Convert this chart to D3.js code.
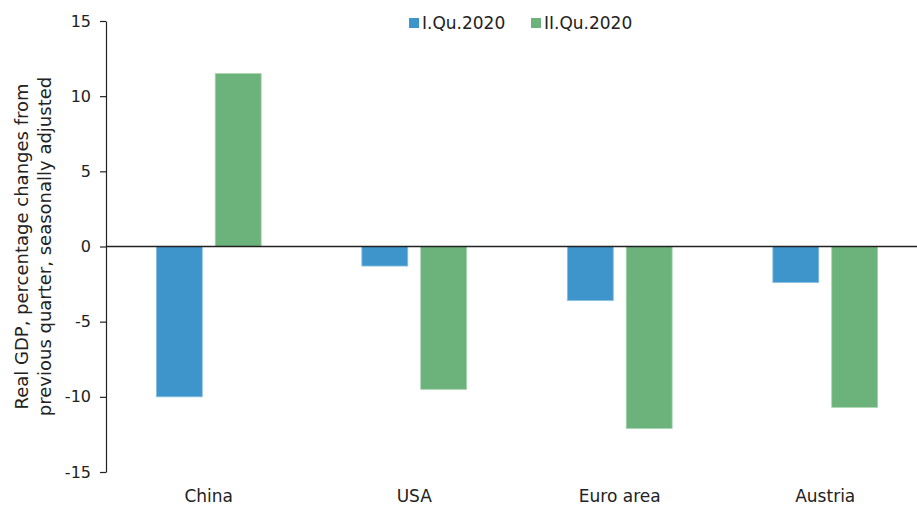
<!DOCTYPE html>
<html>
<head>
<meta charset="utf-8">
<script src="https://cdn.jsdelivr.net/npm/d3@7"></script>
<style>
  body { margin: 0; background: #fff; }
  svg text { font-family: "DejaVu Sans", sans-serif; fill: #222; }
</style>
</head>
<body>
<div id="chartTarget"></div>
<script>
// data
let countries = ['China', 'USA', 'Euro area', 'Austria'];
let seriesNames = ['I.Qu.2020', 'II.Qu.2020'];
let q1Values = [-10.0, -1.3, -3.6, -2.4];
let q2Values = [11.5, -9.5, -12.1, -10.7];
let yTicks = [-15, -10, -5, 0, 5, 10, 15];
let colors = ['#3e95cb', '#6bb37b'];

let width = 917;
let height = 506;
let margin = {top: 21, left: 106, bottom: 34, plotRight: 928};

let rows = countries.map((c, i) => ({country: c, values: [q1Values[i], q2Values[i]]}));

let svg = d3.select('#chartTarget').append('svg')
  .attr('width', width)
  .attr('height', height);

let x0 = d3.scaleBand()
  .domain(countries)
  .range([margin.left, margin.plotRight])
  .paddingInner(0.49)
  .paddingOuter(0.245);

let x1 = d3.scaleBand()
  .domain([0, 1])
  .range([0, x0.bandwidth()])
  .paddingInner(0.22);

let y = d3.scaleLinear()
  .domain([-15, 15])
  .range([472, margin.top]);

// bars
let groups = svg.selectAll('.group')
  .data(rows)
  .enter().append('g')
    .attr('class', 'group')
    .attr('transform', d => `translate(${x0(d.country)},0)`);

groups.selectAll('rect')
  .data(d => d.values.map((v, i) => ({v: v, i: i})))
  .enter().append('rect')
    .attr('x', d => x1(d.i))
    .attr('y', d => y(Math.max(0, d.v)))
    .attr('width', x1.bandwidth())
    .attr('height', d => Math.abs(y(d.v) - y(0)))
    .attr('fill', d => colors[d.i])
    .attr('stroke', d => d.i === 0 ? '#8cc0e0' : '#a5d3ae')
    .attr('stroke-width', 0.8);

// y axis, plain hyphen for negatives like the original
let yAxis = d3.axisLeft(y)
  .tickValues(yTicks)
  .tickFormat(d => String(d))
  .tickSizeInner(6)
  .tickSizeOuter(0)
  .tickPadding(9);

let yg = svg.append('g')
  .attr('transform', `translate(${margin.left},0)`)
  .call(yAxis);
yg.selectAll('text').style('font-size', '16px');
yg.selectAll('line, path').attr('stroke', '#222').attr('stroke-width', 1.2);

// zero line
svg.append('line')
  .attr('x1', margin.left)
  .attr('x2', width)
  .attr('y1', y(0))
  .attr('y2', y(0))
  .attr('stroke', '#222')
  .attr('stroke-width', 1.5);

// category labels
svg.selectAll('.cat')
  .data(countries)
  .enter().append('text')
    .attr('class', 'cat')
    .attr('x', d => x0(d) + x0.bandwidth() / 2)
    .attr('y', 502)
    .attr('text-anchor', 'middle')
    .style('font-size', '17px')
    .text(d => d);

// y title, two lines
let titleLines = ['Real GDP, percentage changes from', 'previous quarter, seasonally adjusted'];
svg.selectAll('.ytitle')
  .data(titleLines)
  .enter().append('text')
    .attr('class', 'ytitle')
    .attr('transform', (d, i) => `translate(${28 + i * 23},${y(0)}) rotate(-90)`)
    .attr('text-anchor', 'middle')
    .style('font-size', '18px')
    .text(d => d);

// legend
let legendX = [409, 531];
let legend = svg.selectAll('.legend')
  .data(seriesNames)
  .enter().append('g')
    .attr('class', 'legend')
    .attr('transform', (d, i) => `translate(${legendX[i]},18)`);

legend.append('rect')
  .attr('width', 10)
  .attr('height', 10)
  .attr('fill', (d, i) => colors[i]);

legend.append('text')
  .attr('x', 13)
  .attr('y', 11)
  .style('font-size', '17px')
  .text(d => d);
</script>
</body>
</html>
